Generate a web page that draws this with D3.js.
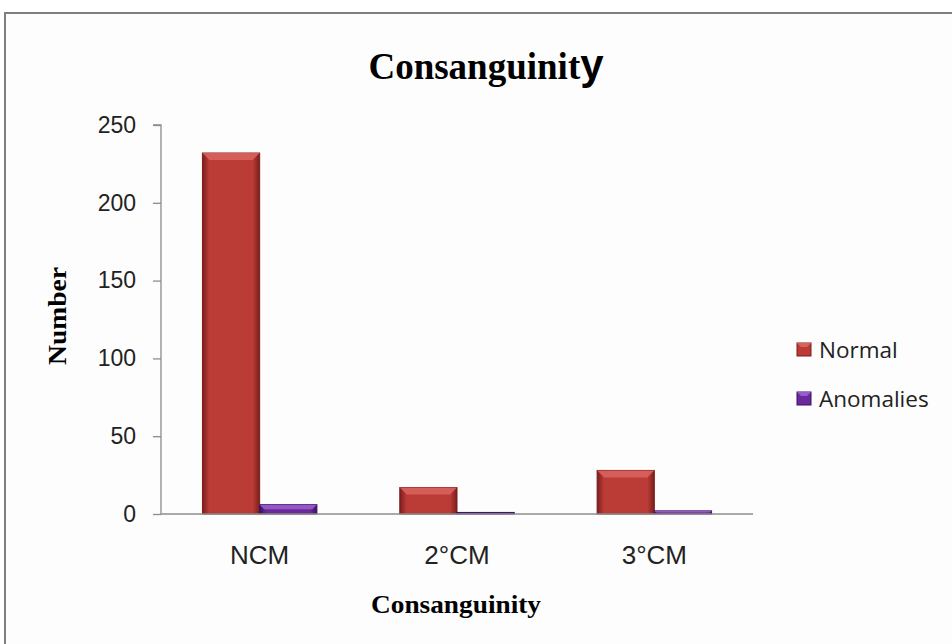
<!DOCTYPE html>
<html><head><meta charset="utf-8">
<script src="https://cdn.jsdelivr.net/npm/d3@7"></script>
<style>body{margin:0;background:#fff}svg{display:block}</style>
</head><body>
<script>
const categories = ["NCM", "2°CM", "3°CM"];
const seriesNames = ["Normal", "Anomalies"];
const normalValues = [232, 17, 28];
const anomalyValues = [6, 1, 2];
const yTicks = [0, 50, 100, 150, 200, 250];
const colors = {Normal: "#bb3b37", Anomalies: "#6a2a9c"};
const dark = {Normal: "#7a1e1c", Anomalies: "#3a1160"};
const light = {Normal: "#d9625c", Anomalies: "#9a5ccc"};

const W = 952, H = 644;
const svg = d3.select("body").append("svg").attr("width", W).attr("height", H);
svg.append("rect").attr("x", 5).attr("y", 13).attr("width", 960).attr("height", 660)
  .attr("fill", "#fdfdfd").attr("stroke", "#7f7f7f").attr("stroke-width", 2);

const m = {l: 161, r: 753, t: 125, b: 514};
const x0 = d3.scaleBand().domain(categories).range([m.l, m.r]).paddingInner(0.42).paddingOuter(0.21);
const x1 = d3.scaleBand().domain(seriesNames).range([0, x0.bandwidth()]);
const y = d3.scaleLinear().domain([0, 250]).range([m.b, m.t]);

const defs = svg.append("defs");
seriesNames.forEach(s => {
  const g = defs.append("linearGradient").attr("id", "g" + s).attr("x1", 0).attr("x2", 1).attr("y1", 0).attr("y2", 0);
  g.append("stop").attr("offset", "0%").attr("stop-color", dark[s]);
  g.append("stop").attr("offset", "12%").attr("stop-color", colors[s]);
  g.append("stop").attr("offset", "88%").attr("stop-color", colors[s]);
  g.append("stop").attr("offset", "100%").attr("stop-color", dark[s]);
});

// axes
const yAxis = d3.axisLeft(y).tickValues(yTicks).tickSize(8).tickPadding(17);
const ga = svg.append("g").attr("transform", `translate(${m.l},0)`).call(yAxis);
ga.select(".domain").attr("stroke", "#8c8c8c").attr("stroke-width", 1.3).attr("d", `M-8,${m.t}H0V${m.b}`);
ga.selectAll(".tick line").attr("stroke", "#8c8c8c").attr("stroke-width", 1.3);
ga.selectAll("text").attr("font-family", "Liberation Sans, Arial, sans-serif").attr("font-size", 23).attr("fill", "#222");

const data = categories.map((c, i) => ({c, vals: [{s: "Normal", v: normalValues[i]}, {s: "Anomalies", v: anomalyValues[i]}]}));
const groups = svg.append("g").selectAll("g").data(data).join("g").attr("transform", d => `translate(${x0(d.c)},0)`);
groups.selectAll("g.bar").data(d => d.vals).join("g").attr("class", "bar").each(function(d) {
  const g = d3.select(this);
  const bx = x1(d.s), bw = x1.bandwidth(), by = y(d.v), bh = y(0) - y(d.v);
  g.append("rect").attr("x", bx).attr("y", by).attr("width", bw).attr("height", bh)
    .attr("fill", `url(#g${d.s})`).attr("stroke", dark[d.s]).attr("stroke-width", 1);
  const bev = Math.min(7, bh / 2);
  if (bh > 2) {
    g.append("path").attr("d", `M${bx},${by}H${bx + bw}L${bx + bw - bev},${by + bev}H${bx + bev}Z`)
      .attr("fill", light[d.s]).attr("opacity", 0.9);
  }
});

const xAxis = d3.axisBottom(x0).tickSize(0).tickPadding(32);
const gx = svg.append("g").attr("transform", `translate(0,${m.b})`).call(xAxis);
gx.select(".domain").attr("stroke", "#8c8c8c").attr("stroke-width", 1.3).attr("d", `M${m.l},0H${m.r}`);
gx.selectAll("text").attr("font-family", "Liberation Sans, Arial, sans-serif").attr("font-size", 26).attr("fill", "#222");

// title
const t = svg.append("text").attr("x", 486).attr("y", 79).attr("text-anchor", "middle").attr("fill", "#000");
t.append("tspan").text("Consanguinit").attr("font-family", "Liberation Serif, Times New Roman, serif").attr("font-weight", "bold").attr("font-size", 37);
t.append("tspan").text("y").attr("font-family", "Liberation Sans, Arial, sans-serif").attr("font-weight", "bold").attr("font-size", 42);

svg.append("text").attr("x", 456).attr("y", 613).attr("text-anchor", "middle")
  .attr("font-family", "Liberation Serif, Times New Roman, serif").attr("font-weight", "bold").attr("font-size", 25)
  .attr("textLength", 170).attr("lengthAdjust", "spacingAndGlyphs")
  .text("Consanguinity");
svg.append("text").attr("transform", "translate(66,316) rotate(-90)").attr("text-anchor", "middle")
  .attr("font-family", "Liberation Serif, Times New Roman, serif").attr("font-weight", "bold").attr("font-size", 25)
  .attr("textLength", 98).attr("lengthAdjust", "spacingAndGlyphs")
  .text("Number");

// legend
const lg = svg.append("g").selectAll("g").data(seriesNames).join("g")
  .attr("transform", (d, i) => `translate(797,${343 + i * 49})`);
lg.append("rect").attr("width", 14).attr("height", 13).attr("fill", d => colors[d]).attr("stroke", d => dark[d]);
lg.append("path").attr("d", "M0,0H14L10,4H4Z").attr("fill", d => light[d]);
lg.append("text").attr("x", 22).attr("y", 15).attr("font-family", "Open Sans, Liberation Sans, sans-serif")
  .attr("font-size", 22.5).attr("fill", "#222").text(d => d);
</script>
</body></html>
